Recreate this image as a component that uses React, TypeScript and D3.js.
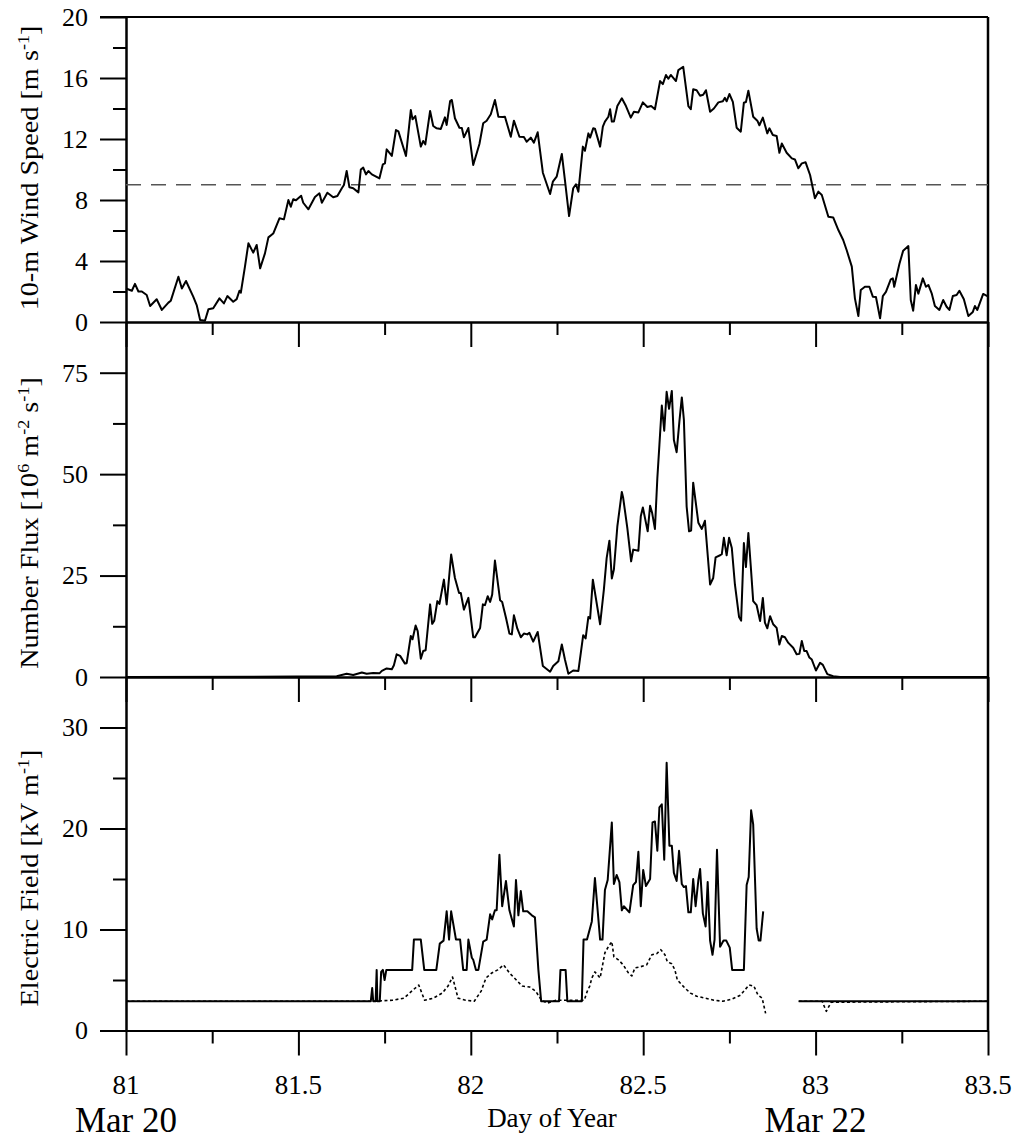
import * as d3 from 'd3'
import { useEffect, useRef } from 'react'

const W = 1015, H = 1142
const left = 126, right = 988
const serif = "'Liberation Serif', 'Times New Roman', serif"

// axis ticks
const dayTicks = [81, 81.5, 82, 82.5, 83, 83.5]
const dayMinor = [81.25, 81.75, 82.25, 82.75, 83.25]
const windTicks = [0, 4, 8, 12, 16, 20]
const windMinor = [2, 6, 10, 14, 18]
const fluxTicks = [0, 25, 50, 75]
const fluxMinor = [12.5, 37.5, 62.5]
const efTicks = [0, 10, 20, 30]
const efMinor = [5, 15, 25]
const windThreshold = 9

// [day of year, 10-m wind speed m/s]
const windSpeed: [number, number][] = [
  [81.000,2.2],[81.017,2.05],[81.026,2.5],[81.036,2.0],[81.046,2.0],[81.060,1.77],[81.070,1.05],[81.089,1.49],
  [81.104,0.79],[81.123,1.27],[81.130,1.4],[81.152,2.97],[81.162,2.2],[81.174,2.69],[81.195,1.66],[81.205,1.11],
  [81.215,0.13],[81.229,0.08],[81.239,0.83],[81.253,0.9],[81.271,1.55],[81.284,1.22],[81.294,1.7],[81.311,1.33],
  [81.321,1.5],[81.329,2.05],[81.333,1.92],[81.345,3.63],[81.355,5.16],[81.369,4.55],[81.379,5.05],[81.389,3.52],
  [81.403,4.5],[81.413,5.55],[81.427,5.8],[81.445,6.8],[81.458,6.73],[81.471,8.0],[81.478,7.56],[81.485,8.05],
  [81.493,7.98],[81.508,8.28],[81.514,7.82],[81.529,7.39],[81.548,8.2],[81.561,8.44],[81.568,7.82],[81.584,8.48],
  [81.601,8.18],[81.613,8.26],[81.626,8.77],[81.632,8.98],[81.640,9.9],[81.648,8.83],[81.659,8.77],[81.674,8.5],
  [81.681,10.0],[81.688,10.12],[81.696,9.68],[81.703,9.9],[81.713,9.68],[81.735,9.42],[81.745,10.34],[81.751,10.4],
  [81.756,11.32],[81.771,10.89],[81.783,12.59],[81.790,12.5],[81.812,10.89],[81.826,13.9],[81.831,13.29],[81.839,13.5],
  [81.855,11.5],[81.862,11.87],[81.868,11.65],[81.882,13.84],[81.891,12.85],[81.901,12.7],[81.913,12.66],[81.925,13.42],
  [81.930,12.92],[81.940,14.49],[81.945,14.56],[81.954,13.36],[81.967,12.74],[81.974,12.72],[81.980,12.11],[81.993,12.72],
  [82.007,10.3],[82.025,11.67],[82.036,13.03],[82.046,13.2],[82.058,13.62],[82.070,14.56],[82.080,13.46],[82.093,13.44],
  [82.099,13.46],[82.116,12.15],[82.125,13.2],[82.141,12.15],[82.154,12.13],[82.162,11.82],[82.174,12.09],[82.183,11.76],
  [82.194,12.44],[82.209,9.79],[82.230,8.39],[82.238,9.2],[82.249,9.53],[82.264,11.02],[82.273,9.31],[82.285,6.95],
  [82.297,8.77],[82.305,9.03],[82.312,8.54],[82.325,11.5],[82.331,11.23],[82.341,12.37],[82.346,12.09],[82.355,12.7],
  [82.360,12.68],[82.375,11.5],[82.383,12.81],[82.389,13.14],[82.399,13.46],[82.404,13.95],[82.409,13.14],[82.415,13.14],
  [82.425,14.16],[82.438,14.67],[82.450,14.16],[82.464,13.4],[82.473,13.79],[82.486,13.74],[82.499,14.4],[82.512,14.1],
  [82.523,14.16],[82.534,13.95],[82.549,15.8],[82.557,15.6],[82.566,16.2],[82.573,15.95],[82.580,16.2],[82.595,15.8],
  [82.602,16.52],[82.616,16.74],[82.631,14.16],[82.638,13.95],[82.645,15.26],[82.655,15.2],[82.665,14.84],[82.674,14.9],
  [82.682,15.2],[82.694,13.79],[82.705,14.0],[82.718,14.4],[82.731,14.47],[82.737,14.7],[82.742,14.47],[82.750,14.95],
  [82.760,14.43],[82.771,12.74],[82.783,12.48],[82.792,14.38],[82.798,14.43],[82.805,15.17],[82.819,13.46],[82.831,13.2],
  [82.837,12.9],[82.847,13.4],[82.860,12.37],[82.866,12.7],[82.876,12.26],[82.887,12.2],[82.895,11.1],[82.902,11.7],
  [82.916,11.1],[82.931,10.73],[82.940,10.66],[82.950,10.08],[82.960,10.4],[82.971,10.47],[82.984,9.64],[82.992,8.77],
  [82.998,8.11],[83.008,8.55],[83.018,8.33],[83.037,6.9],[83.051,6.86],[83.066,6.03],[83.080,5.38],[83.090,4.72],
  [83.105,3.63],[83.114,1.55],[83.124,0.39],[83.131,2.1],[83.143,2.31],[83.156,2.31],[83.166,1.66],[83.175,1.64],
  [83.187,0.24],[83.195,1.7],[83.204,1.97],[83.218,2.8],[83.224,2.86],[83.228,2.31],[83.243,3.8],[83.254,4.68],
  [83.269,4.98],[83.276,1.44],[83.283,0.74],[83.291,2.43],[83.298,1.86],[83.311,2.86],[83.320,2.31],[83.327,2.43],
  [83.337,1.86],[83.346,1.05],[83.359,0.79],[83.370,1.44],[83.380,1.0],[83.388,0.79],[83.398,1.7],[83.409,1.77],
  [83.417,2.05],[83.430,1.49],[83.443,0.39],[83.456,0.66],[83.462,1.05],[83.469,0.79],[83.486,1.84],[83.498,1.7],
]

// [day of year, number flux 10^6 m-2 s-1]
const numberFlux: [number, number][] = [
  [81.000,0],[81.495,0.1],[81.611,0.2],[81.640,0.8],[81.659,0.5],[81.684,1.1],[81.698,0.8],[81.717,1.0],
  [81.735,0.9],[81.742,1.5],[81.756,2.1],[81.771,1.9],[81.777,2.9],[81.785,5.6],[81.795,5.2],[81.809,3.3],
  [81.814,3.4],[81.826,10.1],[81.831,9.3],[81.840,12.7],[81.846,11.3],[81.855,4.5],[81.862,6.4],[81.869,6.6],
  [81.882,17.9],[81.888,13.1],[81.894,13.9],[81.903,18.7],[81.909,18.0],[81.922,24.0],[81.930,17.9],[81.943,30.2],
  [81.954,24.4],[81.966,20.7],[81.971,20.7],[81.980,16.6],[81.993,19.5],[82.007,9.8],[82.012,9.8],[82.027,12.1],
  [82.035,17.9],[82.041,17.7],[82.049,19.9],[82.056,18.5],[82.062,20.3],[82.070,28.7],[82.085,18.9],[82.091,18.5],
  [82.102,14.6],[82.112,10.7],[82.119,10.5],[82.125,15.2],[82.135,11.9],[82.145,9.8],[82.154,10.7],[82.164,10.5],
  [82.170,10.9],[82.181,8.7],[82.194,11.1],[82.209,2.7],[82.230,1.3],[82.239,2.7],[82.254,3.9],[82.264,8.0],
  [82.273,4.3],[82.283,0.8],[82.297,1.6],[82.312,1.5],[82.326,10.3],[82.333,9.5],[82.341,14.8],[82.346,14.4],
  [82.354,24.0],[82.375,13.0],[82.386,21.6],[82.394,29.3],[82.402,33.6],[82.409,24.3],[82.415,26.5],[82.425,37.1],
  [82.438,45.6],[82.442,44.1],[82.454,36.7],[82.465,28.5],[82.471,31.4],[82.486,31.1],[82.493,39.6],[82.499,41.8],
  [82.513,35.9],[82.520,42.2],[82.526,40.4],[82.534,36.5],[82.541,49.0],[82.547,57.2],[82.554,66.9],[82.561,60.7],
  [82.568,70.3],[82.575,66.1],[82.583,70.5],[82.589,58.4],[82.597,55.4],[82.605,63.0],[82.612,68.9],[82.618,63.4],
  [82.626,42.0],[82.633,35.9],[82.639,36.1],[82.645,47.9],[82.652,43.3],[82.660,38.0],[82.670,36.5],[82.679,38.5],
  [82.694,22.8],[82.703,24.4],[82.710,29.5],[82.723,30.0],[82.728,30.3],[82.734,34.3],[82.742,30.0],[82.749,34.3],
  [82.757,31.8],[82.766,22.8],[82.778,14.8],[82.784,13.9],[82.792,33.0],[82.798,27.1],[82.805,35.5],[82.812,27.3],
  [82.819,18.7],[82.829,17.7],[82.839,13.8],[82.847,19.5],[82.853,13.4],[82.860,12.0],[82.868,15.0],[82.877,13.0],
  [82.887,12.1],[82.895,8.0],[82.902,10.1],[82.911,9.8],[82.921,8.4],[82.935,7.2],[82.945,5.6],[82.953,5.7],
  [82.960,8.9],[82.967,6.4],[82.974,6.4],[82.982,4.8],[82.989,4.3],[83.001,1.6],[83.013,3.5],[83.021,3.0],
  [83.034,0.7],[83.051,0.2],[83.071,0],[83.500,0],
]

// [day of year, electric field kV/m], solid trace; null marks the data gap
const efieldSolid: [number, number | null][] = [
  [81.000,2.9],[81.710,2.9],[81.714,4.2],[81.717,2.9],[81.724,2.9],[81.727,6.0],[81.729,2.9],[81.736,2.9],
  [81.740,5.8],[81.745,6.0],[81.750,5.0],[81.755,6.0],[81.830,6.0],[81.835,9.0],[81.855,9.0],[81.865,6.0],
  [81.900,6.0],[81.910,8.6],[81.921,8.9],[81.930,11.8],[81.937,9.0],[81.943,11.8],[81.957,9.0],[81.969,9.0],
  [81.978,6.0],[81.988,6.0],[81.993,9.0],[82.003,7.2],[82.007,7.0],[82.015,6.0],[82.022,6.0],[82.036,8.8],
  [82.046,9.0],[82.056,11.5],[82.062,11.0],[82.070,11.9],[82.075,11.9],[82.083,17.4],[82.091,12.3],[82.102,14.8],
  [82.112,11.9],[82.125,10.3],[82.131,14.9],[82.138,11.4],[82.145,13.8],[82.152,11.8],[82.164,11.8],[82.177,11.4],
  [82.186,11.2],[82.196,6.0],[82.204,2.9],[82.256,2.9],[82.260,6.0],[82.275,6.0],[82.280,2.9],[82.322,2.9],
  [82.327,9.0],[82.337,9.0],[82.351,10.8],[82.360,15.1],[82.375,9.0],[82.382,9.0],[82.389,13.9],[82.397,14.9],
  [82.409,20.6],[82.415,14.5],[82.423,15.4],[82.431,14.7],[82.438,11.9],[82.444,12.3],[82.460,11.7],[82.471,14.4],
  [82.479,14.7],[82.486,17.7],[82.493,12.3],[82.500,15.9],[82.508,14.3],[82.520,15.0],[82.527,20.6],[82.534,20.7],
  [82.541,17.8],[82.547,22.1],[82.554,22.4],[82.561,16.9],[82.568,26.5],[82.576,18.3],[82.583,18.3],[82.589,15.6],
  [82.597,14.8],[82.604,17.8],[82.612,14.5],[82.618,14.2],[82.624,14.3],[82.631,11.7],[82.638,11.7],[82.645,15.0],
  [82.652,12.3],[82.660,14.9],[82.665,16.0],[82.673,11.6],[82.681,10.3],[82.687,14.7],[82.694,8.9],[82.701,7.5],
  [82.707,9.0],[82.714,17.9],[82.723,8.3],[82.733,8.9],[82.741,8.9],[82.751,8.2],[82.758,6.0],[82.792,6.0],
  [82.800,14.4],[82.806,15.2],[82.813,21.8],[82.819,20.4],[82.829,10.1],[82.835,8.9],[82.840,8.9],[82.848,11.8],
  [82.900,null],[82.951,2.9],[83.500,2.9],
]

// dotted trace
const efieldDotted: [number, number | null][] = [
  [81.000,2.9],[81.722,2.9],[81.773,3.0],[81.806,3.2],[81.832,4.0],[81.849,4.5],[81.866,3.0],[81.891,3.2],
  [81.917,3.7],[81.934,4.4],[81.947,5.3],[81.963,3.2],[81.985,3.0],[82.010,2.9],[82.030,3.9],[82.044,5.2],
  [82.061,5.7],[82.078,6.0],[82.095,6.5],[82.112,5.7],[82.132,5.0],[82.149,4.4],[82.171,4.3],[82.188,3.9],
  [82.205,3.0],[82.222,2.7],[82.247,3.0],[82.281,3.0],[82.307,3.0],[82.329,3.0],[82.338,3.9],[82.345,4.4],
  [82.351,5.2],[82.360,5.8],[82.375,5.2],[82.389,7.7],[82.399,8.3],[82.409,8.8],[82.415,7.3],[82.428,7.0],
  [82.442,6.5],[82.457,5.7],[82.467,5.4],[82.476,6.2],[82.491,6.3],[82.510,6.5],[82.525,7.5],[82.539,7.6],
  [82.551,8.0],[82.563,7.5],[82.570,6.8],[82.583,6.6],[82.592,6.0],[82.599,5.0],[82.621,4.2],[82.637,3.7],
  [82.655,3.4],[82.680,3.2],[82.705,3.0],[82.731,2.9],[82.756,3.1],[82.782,3.5],[82.807,4.5],[82.821,4.4],
  [82.833,3.5],[82.845,3.2],[82.855,1.7],[82.900,null],[82.951,2.9],[83.019,2.9],[83.031,1.9],[83.045,2.8],
  [83.500,2.9],
]

const panels = [
  { top: 17, bottom: 322, max: 20, major: windTicks, minor: windMinor, labelY: 168 },
  { top: 322, bottom: 677, max: 87.5, major: fluxTicks, minor: fluxMinor, labelY: 523 },
  { top: 677, bottom: 1030.5, max: 35, major: efTicks, minor: efMinor, labelY: 878 },
]

const yLabels = [
  [['10-m Wind Speed [m s', 0], ['-1', 1], [']', 0]],
  [['Number Flux [10', 0], ['6', 1], [' m', 0], ['-2', 1], [' s', 0], ['-1', 1], [']', 0]],
  [['Electric Field [kV m', 0], ['-1', 1], [']', 0]],
]

const chart = (node: SVGSVGElement) => {
  const svg = d3.select(node)
  svg.selectAll('*').remove()
  svg.append('rect').attr('width', W).attr('height', H).attr('fill', 'white')

  const x = d3.scaleLinear().domain([81, 83.5]).range([left, right])
  const ys = panels.map(p => d3.scaleLinear().domain([0, p.max]).range([p.bottom, p.top]))

  const styleAxis = (g: any) => {
    g.attr('font-family', serif).attr('font-size', 26).attr('color', '#000')
    g.selectAll('line').attr('stroke-width', 2)
    g.selectAll('path').attr('stroke-width', 2)
  }

  panels.forEach((p, i) => {
    const y = ys[i]
    // x ticks at panel bottom, pointing down
    svg.append('g').attr('transform', `translate(0,${p.bottom})`)
      .call(d3.axisBottom(x).tickValues(dayMinor).tickSize(13).tickSizeOuter(0).tickFormat(() => ''))
      .call(styleAxis)
    svg.append('g').attr('transform', `translate(0,${p.bottom})`)
      .call(d3.axisBottom(x).tickValues(dayTicks).tickSize(25).tickSizeOuter(0).tickFormat(() => ''))
      .call(styleAxis)
    // y ticks
    svg.append('g').attr('transform', `translate(${left},0)`)
      .call(d3.axisLeft(y).tickValues(p.minor).tickSize(13).tickSizeOuter(0).tickFormat(() => ''))
      .call(styleAxis)
    svg.append('g').attr('transform', `translate(${left},0)`)
      .call(d3.axisLeft(y).tickValues(p.major).tickSize(26).tickPadding(12).tickSizeOuter(0)
        .tickFormat(d => String(d)))
      .call(styleAxis)

    // y label
    const t = svg.append('text')
      .attr('transform', `translate(37.5,${p.labelY}) rotate(-90) scale(1.13,1)`)
      .attr('text-anchor', 'middle')
      .attr('font-family', serif).attr('font-size', 25)
    let up = false
    yLabels[i].forEach(([s, sup]) => {
      const ts = t.append('tspan').text(s as string)
      if (sup && !up) { ts.attr('dy', -9).attr('font-size', 16); up = true }
      else if (!sup && up) { ts.attr('dy', 9); up = false }
      else if (sup) ts.attr('font-size', 16)
    })
  })

  // top and right borders
  svg.append('line').attr('x1', 100).attr('x2', right).attr('y1', 17).attr('y2', 17)
    .attr('stroke', '#000').attr('stroke-width', 2)
  svg.append('line').attr('x1', right).attr('x2', right).attr('y1', 17).attr('y2', 1030.5)
    .attr('stroke', '#000').attr('stroke-width', 2.5)

  // threshold
  svg.append('line').attr('x1', left).attr('x2', right)
    .attr('y1', ys[0](windThreshold)).attr('y2', ys[0](windThreshold))
    .attr('stroke', '#555').attr('stroke-width', 1.4).attr('stroke-dasharray', '15,10')

  const mk = (y: any) => d3.line<[number, number | null]>()
    .defined(d => d[1] != null)
    .x(d => x(d[0]))
    .y(d => y(d[1] as number))

  const series = [
    { data: windSpeed, y: ys[0], dash: null, w: 2 },
    { data: numberFlux, y: ys[1], dash: null, w: 2 },
    { data: efieldSolid, y: ys[2], dash: null, w: 2 },
    { data: efieldDotted, y: ys[2], dash: '3,2.5', w: 1.6 },
  ]
  series.forEach(s => {
    svg.append('path').datum(s.data as any)
      .attr('d', mk(s.y) as any)
      .attr('fill', 'none').attr('stroke', '#000').attr('stroke-width', s.w)
      .attr('stroke-linejoin', 'round')
      .attr('stroke-dasharray', s.dash)
  })

  // x tick labels
  svg.append('g').selectAll('text').data(dayTicks).join('text')
    .attr('x', d => x(d)).attr('y', 1094)
    .attr('text-anchor', 'middle')
    .attr('font-family', serif).attr('font-size', 27)
    .text(d => String(d))

  svg.append('text').attr('x', 552).attr('y', 1127)
    .attr('text-anchor', 'middle').attr('font-family', serif).attr('font-size', 27)
    .text('Day of Year')
  svg.append('text').attr('x', x(81)).attr('y', 1132)
    .attr('text-anchor', 'middle').attr('font-family', serif).attr('font-size', 35)
    .text('Mar 20')
  svg.append('text').attr('x', x(83)).attr('y', 1132)
    .attr('text-anchor', 'middle').attr('font-family', serif).attr('font-size', 35)
    .text('Mar 22')
}

export default function App() {
  const ref = useRef<SVGSVGElement>(null)
  useEffect(() => {
    if (ref.current) chart(ref.current)
  }, [])
  return (
    <svg ref={ref} width={W} height={H}
      style={{ position: 'absolute', left: 0, top: 0, display: 'block' }} />
  )
}
